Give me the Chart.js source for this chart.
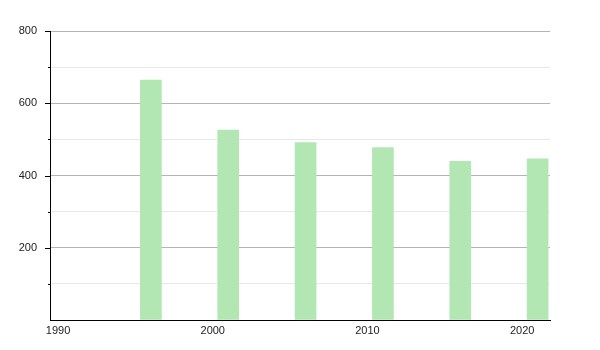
<!DOCTYPE html>
<html>
<head>
<meta charset="utf-8">
<script src="https://cdn.jsdelivr.net/npm/chart.js@4"></script>
<style>
  html, body { margin: 0; padding: 0; background: #fff; }
  #wrap { width: 600px; height: 350px; }
</style>
</head>
<body>
<div id="wrap"><canvas id="chart"></canvas></div>
<script>
// Данные
const years = [1996, 2001, 2006, 2011, 2016, 2021];
const values = [664, 526, 491, 477, 439, 446];
const xTickLabels = [1990, 2000, 2010, 2020];
const yTickLabels = [200, 400, 600, 800];

// маленькие и большие засечки на оси Y
const tickMarks = {
    id: 'tickMarks',
    afterDraw(chart) {
        const ctx = chart.ctx;
        const y = chart.scales.y;
        ctx.save();
        ctx.strokeStyle = '#000';
        ctx.lineWidth = 1;
        y.ticks.forEach(function(t) {
            if (t.value === 0) return;
            const py = Math.round(y.getPixelForValue(t.value)) + 0.5;
            const len = t.value % 200 === 0 ? 5 : 2;
            ctx.beginPath();
            ctx.moveTo(y.right - len, py);
            ctx.lineTo(y.right, py);
            ctx.stroke();
        });
        ctx.restore();
    }
};

Chart.defaults.font.family = '"Liberation Sans", Arial, sans-serif';
Chart.defaults.font.size = 11;
Chart.defaults.color = '#222';

new Chart(document.getElementById('chart').getContext('2d'), {
    type: 'bar',
    data: {
        datasets: [{
            data: years.map(function(y, i) { return { x: y, y: values[i] }; }),
            backgroundColor: '#b2e6b2',
            barThickness: 21
        }]
    },
    options: {
        responsive: true,
        maintainAspectRatio: false,
        animation: false,
        layout: { padding: { top: 31, right: 50, left: 0, bottom: 0 } },
        plugins: { legend: { display: false }, tooltip: { enabled: false } },
        scales: {
            x: {
                type: 'linear',
                offset: false,
                min: 1989.48,
                max: 2021.8,
                afterBuildTicks: function(scale) {
                    scale.ticks = xTickLabels.map(function(v) { return { value: v }; });
                },
                afterFit: function(scale) { scale.height = 30; },
                grid: { display: false, drawTicks: false },
                border: { display: true, color: '#000', width: 1 },
                ticks: {
                    padding: 4,
                    maxRotation: 0,
                    autoSkip: false,
                    callback: function(v) { return String(v); }
                }
            },
            y: {
                min: 0,
                max: 800,
                afterFit: function(scale) { scale.width = 50; },
                grid: {
                    drawTicks: false,
                    color: function(c) {
                        return c.tick.value % 200 === 0 ? '#b4b4b4' : '#e8e8e8';
                    }
                },
                border: { display: true, color: '#000', width: 1 },
                ticks: {
                    stepSize: 100,
                    padding: 13,
                    callback: function(v) {
                        return yTickLabels.indexOf(v) >= 0 ? String(v) : '';
                    }
                }
            }
        }
    },
    plugins: [tickMarks]
});
</script>
</body>
</html>
